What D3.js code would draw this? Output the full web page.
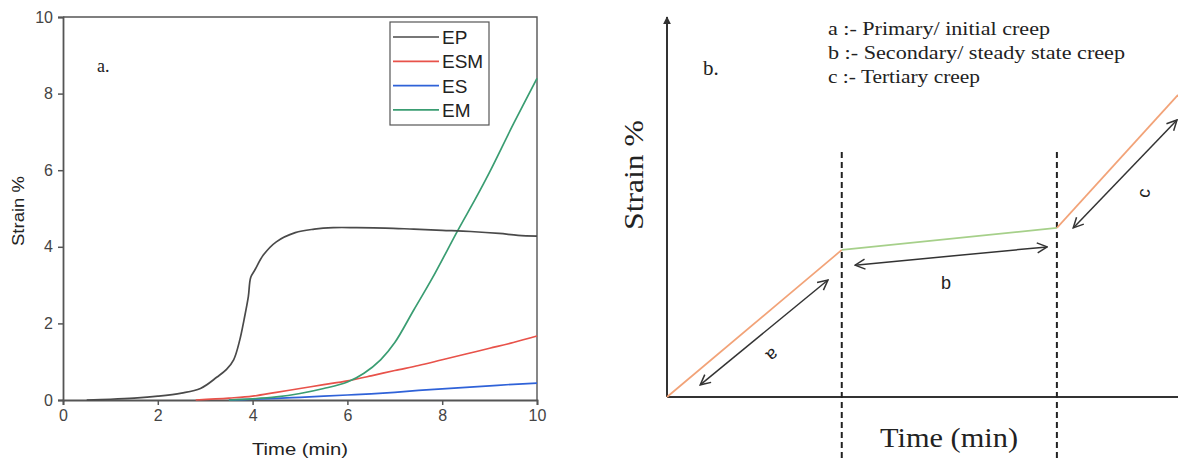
<!DOCTYPE html>
<html>
<head>
<meta charset="utf-8">
<script src="https://cdn.jsdelivr.net/npm/d3@7"></script>
<style>
  html, body { margin: 0; padding: 0; background: #fff; }
  svg { display: block; }
</style>
</head>
<body>
<svg id="chart" width="1178" height="460"></svg>
<script>
// ---- Panel a: measured creep curves ----
const seriesNames = ["EP", "ESM", "ES", "EM"];
const seriesColors = ["#4a4a4a", "#e8524a", "#2f62d8", "#3a9d72"];

const epTime   = [0.5, 1, 1.5, 2, 2.5, 2.9, 3.25, 3.45, 3.6, 3.73, 3.82, 3.91, 3.96, 4.05, 4.23, 4.5, 4.9, 5.3, 5.7, 6.2, 6.8, 7.4, 8.0, 8.6, 9.2, 9.6, 10];
const epStrain = [0, 0.02, 0.05, 0.1, 0.18, 0.3, 0.6, 0.8, 1.05, 1.57, 2.1, 2.7, 3.2, 3.4, 3.79, 4.13, 4.37, 4.46, 4.5, 4.5, 4.49, 4.46, 4.43, 4.4, 4.35, 4.3, 4.28];

const esmTime   = [2.8, 3.5, 4, 4.5, 5, 5.5, 6, 6.5, 7, 7.5, 8, 8.5, 9, 9.5, 10];
const esmStrain = [0, 0.05, 0.1, 0.2, 0.3, 0.4, 0.5, 0.63, 0.77, 0.9, 1.05, 1.2, 1.35, 1.5, 1.67];

const esTime   = [3.5, 4, 4.5, 5, 5.5, 6, 6.5, 7, 7.5, 8, 8.5, 9, 9.5, 10];
const esStrain = [0, 0.02, 0.04, 0.07, 0.1, 0.13, 0.16, 0.2, 0.25, 0.29, 0.33, 0.37, 0.41, 0.44];

const emTime   = [3.5, 4, 4.5, 5, 5.5, 6, 6.35, 6.7, 7.0, 7.4, 7.8, 8.33, 8.7, 9.0, 9.5, 10];
const emStrain = [0, 0.03, 0.08, 0.17, 0.3, 0.47, 0.7, 1.05, 1.5, 2.35, 3.2, 4.43, 5.25, 5.95, 7.2, 8.4];

const xTicks = [0, 2, 4, 6, 8, 10];
const yTicks = [0, 2, 4, 6, 8, 10];

// ---- Panel b: schematic creep stages (arbitrary units 0–100) ----
const stageKeys   = ["a", "b", "c"];
const stageLabels = ["Primary/ initial creep", "Secondary/ steady state creep", "Tertiary creep"];
const stageColors = ["#f2a378", "#a6d08a", "#f2a378"];
const stageX = [[0, 34.2], [34.2, 76.3], [76.3, 100]];
const stageY = [[0, 38.7], [38.7, 44.5], [44.5, 79.5]];
const boundaryX = [34.2, 76.3];
const boundaryY = [-17, 64.5];
// double-headed arrows marking each stage, and where their letters sit
const arrowFrom = [[6.5, 3.2], [36.8, 34.7], [79.5, 44.5]];
const arrowTo   = [[31.5, 30.8], [74.4, 39.5], [99.8, 72.9]];
const letterPos = [[20.7, 11], [54.6, 30], [93.2, 53.7]];
const letterRot = [140, 0, -80];

const svg = d3.select("#chart");
const sans = "'Liberation Sans', Arial, sans-serif";
const serif = "'Liberation Serif', 'Times New Roman', serif";

// ================= Panel a =================
const x = d3.scaleLinear().domain([0, 10]).range([63, 537]);
const y = d3.scaleLinear().domain([0, 10]).range([400, 17]);

const gA = svg.append("g");

// frame (top and right edges)
gA.append("path")
  .attr("d", `M${x(0)},${y(10)}H${x(10)}V${y(0)}`)
  .attr("fill", "none").attr("stroke", "#555").attr("stroke-width", 1.4);

const xAxis = gA.append("g")
  .attr("transform", `translate(0,${y(0)})`)
  .call(d3.axisBottom(x).tickValues(xTicks).tickSize(5).tickPadding(5).tickFormat(d3.format("d")));
const yAxis = gA.append("g")
  .attr("transform", `translate(${x(0)},0)`)
  .call(d3.axisLeft(y).tickValues(yTicks).tickSize(5).tickPadding(5).tickFormat(d3.format("d")));
[xAxis, yAxis].forEach(ax => {
  ax.attr("font-size", 16).attr("font-family", sans);
  ax.select(".domain").attr("stroke", "#555").attr("stroke-width", 1.8);
  ax.selectAll(".tick line").attr("stroke", "#555").attr("stroke-width", 1.5);
  ax.selectAll(".tick text").attr("fill", "#444");
});

const line = d3.line().x(d => x(d[0])).y(d => y(d[1])).curve(d3.curveCatmullRom.alpha(0.5));
const seriesData = [
  d3.zip(epTime, epStrain),
  d3.zip(esmTime, esmStrain),
  d3.zip(esTime, esStrain),
  d3.zip(emTime, emStrain)
];
// draw order: blue and red under black and green
[2, 1, 3, 0].forEach(i => {
  gA.append("path")
    .datum(seriesData[i])
    .attr("d", line)
    .attr("fill", "none")
    .attr("stroke", seriesColors[i])
    .attr("stroke-width", 1.7);
});

// legend
const leg = gA.append("g").attr("transform", "translate(390,22)");
leg.append("rect").attr("width", 99).attr("height", 103)
  .attr("fill", "#fff").attr("stroke", "#555").attr("stroke-width", 1.2);
seriesNames.forEach((name, i) => {
  const yy = 15 + i * 24.3;
  leg.append("line").attr("x1", 3).attr("x2", 49).attr("y1", yy).attr("y2", yy)
    .attr("stroke", seriesColors[i]).attr("stroke-width", 1.7);
  leg.append("text").attr("x", 52).attr("y", yy + 7)
    .style("font-family", sans).style("font-size", "19px").attr("fill", "#222")
    .text(name);
});

gA.append("text").attr("x", 97).attr("y", 72)
  .style("font-family", serif).style("font-size", "18px").attr("fill", "#222").text("a.");

gA.append("text")
  .attr("transform", `translate(24,211) rotate(-90)`)
  .attr("text-anchor", "middle")
  .attr("textLength", 70).attr("lengthAdjust", "spacingAndGlyphs")
  .style("font-family", sans).style("font-size", "16px").attr("fill", "#222")
  .text("Strain %");
gA.append("text")
  .attr("x", 300).attr("y", 455)
  .attr("text-anchor", "middle")
  .attr("textLength", 96).attr("lengthAdjust", "spacingAndGlyphs")
  .style("font-family", sans).style("font-size", "17px").attr("fill", "#222")
  .text("Time (min)");

// ================= Panel b =================
const sx = d3.scaleLinear().domain([0, 100]).range([667, 1178]);
const sy = d3.scaleLinear().domain([0, 100]).range([397, 17]);
const gB = svg.append("g");

const defs = svg.append("defs");
defs.append("marker")
  .attr("id", "open-head").attr("viewBox", "0 0 12 12")
  .attr("refX", 11).attr("refY", 6)
  .attr("markerWidth", 12).attr("markerHeight", 12)
  .attr("markerUnits", "userSpaceOnUse")
  .attr("orient", "auto-start-reverse")
  .append("path").attr("d", "M1,1 L11,6 L1,11")
  .attr("fill", "none").attr("stroke", "#333").attr("stroke-width", 1.5);
defs.append("marker")
  .attr("id", "axis-head").attr("viewBox", "0 0 10 10")
  .attr("refX", 9).attr("refY", 5)
  .attr("markerWidth", 8).attr("markerHeight", 8)
  .attr("markerUnits", "userSpaceOnUse")
  .attr("orient", "auto")
  .append("path").attr("d", "M0,0 L10,5 L0,10 Z").attr("fill", "#333");

// axes
gB.append("line")
  .attr("x1", sx(0)).attr("y1", sy(0)).attr("x2", sx(0)).attr("y2", sy(100))
  .attr("stroke", "#333").attr("stroke-width", 2).attr("marker-end", "url(#axis-head)");
gB.append("line")
  .attr("x1", sx(0)).attr("y1", sy(0)).attr("x2", sx(100) + 2).attr("y2", sy(0))
  .attr("stroke", "#333").attr("stroke-width", 2);

// stage boundaries
boundaryX.forEach(bx => {
  gB.append("line")
    .attr("x1", sx(bx)).attr("x2", sx(bx))
    .attr("y1", sy(boundaryY[1])).attr("y2", sy(boundaryY[0]))
    .attr("stroke", "#222").attr("stroke-width", 2).attr("stroke-dasharray", "6,4");
});

// stage segments
const sline = d3.line().x(d => sx(d[0])).y(d => sy(d[1]));
stageKeys.forEach((k, i) => {
  gB.append("path")
    .datum(d3.zip(stageX[i], stageY[i]))
    .attr("d", sline)
    .attr("fill", "none").attr("stroke", stageColors[i]).attr("stroke-width", 1.7);
});

// stage arrows and letters
stageKeys.forEach((k, i) => {
  gB.append("line")
    .attr("x1", sx(arrowFrom[i][0])).attr("y1", sy(arrowFrom[i][1]))
    .attr("x2", sx(arrowTo[i][0])).attr("y2", sy(arrowTo[i][1]))
    .attr("stroke", "#333").attr("stroke-width", 1.5)
    .attr("marker-start", "url(#open-head)").attr("marker-end", "url(#open-head)");
  const px = sx(letterPos[i][0]), py = sy(letterPos[i][1]);
  gB.append("text")
    .attr("transform", `translate(${px},${py}) rotate(${letterRot[i]})`)
    .attr("text-anchor", "middle").attr("dy", "0.35em")
    .style("font-family", sans).style("font-size", "18px").attr("fill", "#222")
    .text(k);
});

// stage key
const keyWidths = [222, 297, 152];
stageKeys.forEach((k, i) => {
  gB.append("text")
    .attr("x", 828).attr("y", 35 + i * 24)
    .attr("textLength", keyWidths[i]).attr("lengthAdjust", "spacingAndGlyphs")
    .style("font-family", serif).style("font-size", "18px").attr("fill", "#222")
    .text(`${k} :- ${stageLabels[i]}`);
});

gB.append("text").attr("x", 703).attr("y", 75)
  .style("font-family", serif).style("font-size", "21px").attr("fill", "#222").text("b.");

gB.append("text")
  .attr("transform", `translate(643,175) rotate(-90)`)
  .attr("text-anchor", "middle")
  .attr("textLength", 110).attr("lengthAdjust", "spacingAndGlyphs")
  .style("font-family", serif).style("font-size", "27px").attr("fill", "#222")
  .text("Strain %");
gB.append("text")
  .attr("x", 949).attr("y", 447)
  .attr("text-anchor", "middle")
  .attr("textLength", 138).attr("lengthAdjust", "spacingAndGlyphs")
  .style("font-family", serif).style("font-size", "27px").attr("fill", "#222")
  .text("Time (min)");
</script>
</body>
</html>
